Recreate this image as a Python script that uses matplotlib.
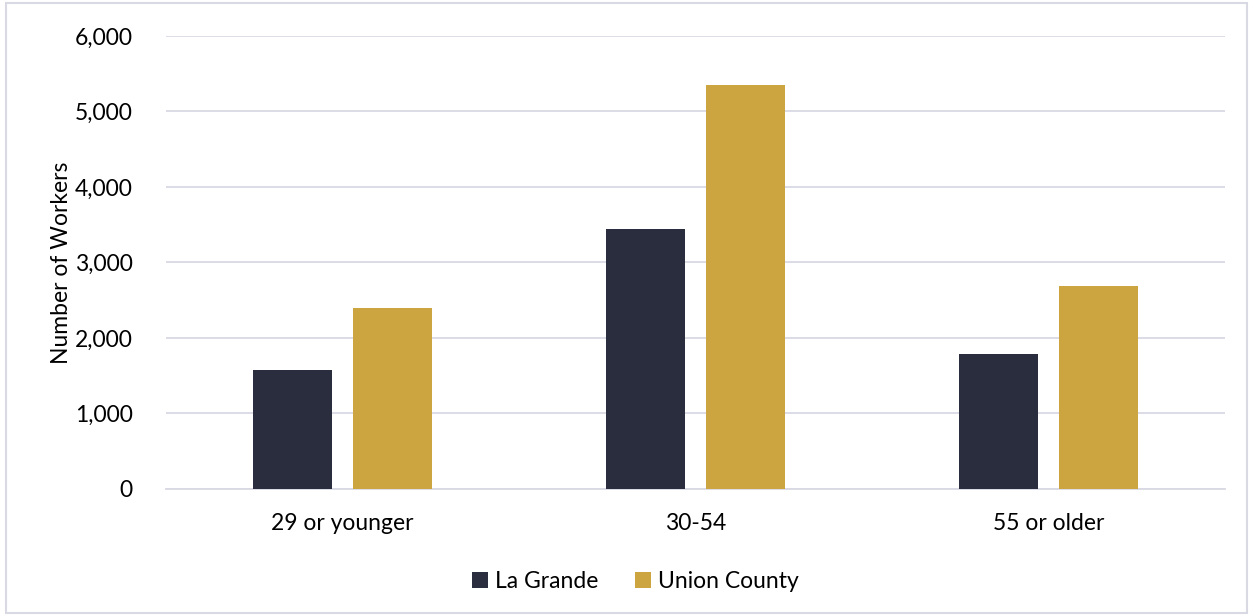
import numpy as np
import matplotlib
matplotlib.use("Agg")
import matplotlib.pyplot as plt
from matplotlib.patches import Rectangle

plt.rcParams['font.family'] = ['Lato', 'DejaVu Sans']

# data
categories = ["29 or younger", "30-54", "55 or older"]
la_grande = [1580, 3450, 1790]
union_county = [2400, 5350, 2690]
y_ticks = [0, 1000, 2000, 3000, 4000, 5000, 6000]

dark = "#2a2d3e"
gold = "#cda540"
grid_col = "#d9d9e4"
fs = 16.5

fig = plt.figure(figsize=(12.53, 6.16), dpi=100)
ax = fig.add_axes([0.1325, 0.2062, 0.8452, 0.7354])

x = np.arange(len(categories))
w = 0.224
off = 0.1416
ax.bar(x - off, la_grande, w, color=dark, label="La Grande", zorder=3)
ax.bar(x + off, union_county, w, color=gold, label="Union County", zorder=3)

ax.set_xlim(-0.5, 2.5)
ax.set_ylim(0, 6000)
ax.set_yticks(y_ticks)
ax.set_yticklabels([f"{v:,}" for v in y_ticks])
ax.set_xticks(x)
ax.set_xticklabels(categories)
ax.tick_params(axis="both", length=0, labelsize=fs, colors="black")
ax.tick_params(axis="y", pad=24)
ax.tick_params(axis="x", pad=17)
ax.yaxis.grid(True, color=grid_col, linewidth=1.3, zorder=0)
for s in ["top", "right", "left"]:
    ax.spines[s].set_visible(False)
ax.spines["bottom"].set_color(grid_col)
ax.spines["bottom"].set_linewidth(1.3)

ax.set_ylabel("Number of Workers", fontsize=fs, labelpad=2)

ax.legend(loc="center", bbox_to_anchor=(0.443, -0.205), ncol=2, frameon=False,
          fontsize=fs, handlelength=0.7, handleheight=0.7, handletextpad=0.3,
          columnspacing=1.6)

fig.patches.append(Rectangle((0.005, 0.005), 0.99, 0.99, transform=fig.transFigure,
                             fill=False, edgecolor=grid_col, linewidth=1.5))

fig.savefig("out.png", dpi=100)
